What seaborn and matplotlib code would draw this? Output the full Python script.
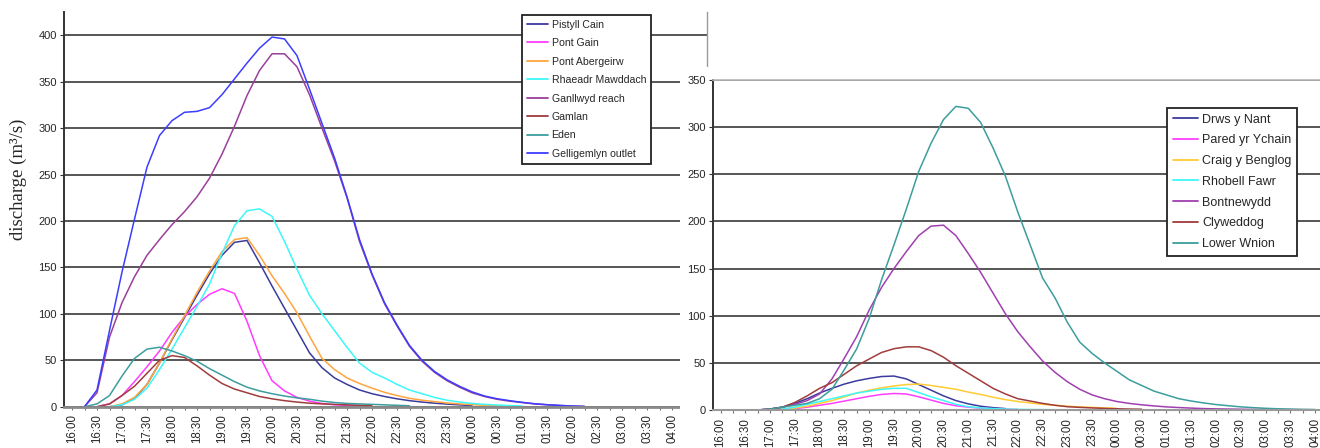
import matplotlib
matplotlib.use("Agg")
import numpy as np
import pandas as pd
import matplotlib.pyplot as plt
import seaborn as sns
from matplotlib.patches import Rectangle

# ---- data (15 minute steps) ----
tick_labels = ["16:00", "16:30", "17:00", "17:30", "18:00", "18:30", "19:00", "19:30",
               "20:00", "20:30", "21:00", "21:30", "22:00", "22:30", "23:00", "23:30",
               "00:00", "00:30", "01:00", "01:30", "02:00", "02:30", "03:00", "03:30", "04:00"]

times_left = ["16:15", "16:30", "16:45", "17:00", "17:15", "17:30", "17:45", "18:00",
              "18:15", "18:30", "18:45", "19:00", "19:15", "19:30", "19:45", "20:00",
              "20:15", "20:30", "20:45", "21:00", "21:15", "21:30", "21:45", "22:00",
              "22:15", "22:30", "22:45", "23:00", "23:15", "23:30", "23:45", "00:00",
              "00:15", "00:30", "00:45", "01:00", "01:15", "01:30", "01:45", "02:00",
              "02:15", "02:30"]

pistyll_cain = [None, None, 0, 2, 9, 24, 47, 72, 96, 120, 143, 163, 177, 179, 155, 130, 106, 82,
                58, 42, 31, 24, 18, 14, 11, 8.5, 6.5, 5, 3.8, 2.8, 2, 1.2] + [None] * 10
pont_gain = [None, 0, 3, 12, 27, 43, 60, 80, 97, 110, 121, 127, 122, 92, 55, 28, 17, 10, 6,
             3.5, 2, 1.5, 1] + [None] * 19
pont_abergeirw = [None, None, 0, 3, 10, 24, 47, 73, 98, 123, 146, 167, 180, 182, 163, 141, 122,
                  101, 76, 52, 40, 31, 25, 20, 15.5, 12, 9, 7, 5.5, 4, 3, 2.2, 1.5, 1, 0.7] + [None] * 7
rhaeadr_mawddach = [None, None, 0, 2, 8, 20, 40, 62, 85, 108, 132, 165, 195, 211, 213, 205, 178,
                    148, 120, 100, 82, 64, 47, 37, 31, 24, 18, 14, 10, 7, 5, 3.5, 2.5, 1.8, 1.2,
                    0.8] + [None] * 6
ganllwyd_reach = [0, 15, 75, 112, 140, 163, 180, 196, 210, 226, 246, 272, 302, 335, 362, 380, 380,
                  366, 336, 300, 265, 225, 178, 142, 111, 87, 65, 49, 37, 28, 21, 15, 11, 8, 6,
                  4.5, 3, 2, 1.3, 0.7, 0.3, None]
gamlan = [None, 0, 3, 12, 22, 36, 50, 55, 53, 44, 34, 25, 19, 15, 11, 8.5, 6.5, 5, 3.8, 3, 2.5,
          2, 1.5, 1] + [None] * 18
eden = [0, 3, 12, 33, 52, 62, 64, 60, 55, 49, 41, 34, 27, 21, 17, 14, 11.5, 9.5, 8, 6, 4.5,
        3.5, 3, 2.5, 2, 1.5, 1] + [None] * 15
gelligemlyn = [0, 18, 82, 145, 202, 258, 292, 308, 317, 318, 322, 336, 353, 370, 386, 398, 396,
               378, 342, 305, 268, 226, 180, 143, 112, 88, 66, 50, 38, 29, 22, 16, 11.5, 8.6, 6.5,
               4.7, 3.2, 2.2, 1.4, 0.7, 0.3, None]

left_sites = ["Pistyll Cain", "Pont Gain", "Pont Abergeirw", "Rhaeadr Mawddach",
              "Ganllwyd reach", "Gamlan", "Eden", "Gelligemlyn outlet"]
left_values = [pistyll_cain, pont_gain, pont_abergeirw, rhaeadr_mawddach,
               ganllwyd_reach, gamlan, eden, gelligemlyn]
left_colors = ["#3b3b9e", "#ff3dff", "#ffa53f", "#3df7f7", "#9a3f9a", "#a03c3c", "#3d9d9d", "#3d3dff"]

times_right = ["16:45", "17:00", "17:15", "17:30", "17:45", "18:00", "18:15", "18:30",
               "18:45", "19:00", "19:15", "19:30", "19:45", "20:00", "20:15", "20:30",
               "20:45", "21:00", "21:15", "21:30", "21:45", "22:00", "22:15", "22:30",
               "22:45", "23:00", "23:15", "23:30", "23:45", "00:00", "00:15", "00:30",
               "00:45", "01:00", "01:15", "01:30", "01:45", "02:00", "02:15", "02:30",
               "02:45", "03:00", "03:15", "03:30", "03:45", "04:00"]

drws_y_nant = [0, 1, 3, 7, 12, 18, 23, 27.5, 31, 33.5, 35.5, 36, 33, 27, 21, 15, 10, 6.5, 4,
               2.5, 1.5] + [None] * 25
pared_yr_ychain = [None, 0, 0.5, 1.5, 3, 5, 7, 9.5, 12, 14.5, 16.5, 17.5, 17, 14, 10.5, 7, 4.5,
                   3, 2, 1.3, 0.8, 0.5] + [None] * 24
craig_y_benglog = [None, 0, 1, 2, 4, 7, 10, 14, 18, 21, 23.5, 25.5, 27, 27.5, 26, 24, 22, 19,
                   16.5, 13.5, 11, 9, 7.5, 6, 5, 4, 3.3, 2.8, 2.2, 1.7] + [None] * 16
rhobell_fawr = [None, 0, 1, 3, 6, 9, 12, 15, 18, 20, 22, 23, 23, 18.5, 14, 10, 6, 3.5, 2.2, 1.5,
                1, 0.7, 0.5, 0.4, 0.3, 0.2] + [None] * 20
bontnewydd = [0, 1, 3, 6, 10, 17, 33, 55, 78, 106, 130, 150, 168, 185, 195, 196, 185, 166, 146,
              124, 102, 83, 67, 52, 40, 30, 22, 16, 12, 9, 7, 5.5, 4.3, 3.3, 2.6, 2, 1.5, 1.2, 1,
              0.8, 0.6, 0.5] + [None] * 4
clyweddog = [0, 1, 3, 8, 15, 23, 29, 38, 47, 54, 61, 65, 67, 67, 63, 56, 47, 39, 31, 23, 17, 12,
             9.5, 7, 5, 3.5, 2.8, 2.2, 1.7, 1.3, 1, 0.8] + [None] * 14
lower_wnion = [0, 1, 3, 5, 7, 12, 22, 43, 65, 97, 138, 175, 213, 253, 283, 308, 322, 320, 305,
               278, 248, 210, 175, 140, 119, 93, 72, 60, 50, 41, 32, 26, 20, 16, 12, 9.5, 7.5,
               5.8, 4.5, 3.3, 2.5, 1.8, 1.3, 1, 0.7, 0.5]

right_sites = ["Drws y Nant", "Pared yr Ychain", "Craig y Benglog", "Rhobell Fawr",
               "Bontnewydd", "Clyweddog", "Lower Wnion"]
right_values = [drws_y_nant, pared_yr_ychain, craig_y_benglog, rhobell_fawr,
                bontnewydd, clyweddog, lower_wnion]
right_colors = ["#3b3b9e", "#ff3dff", "#ffcc33", "#3df7f7", "#a03fb0", "#a03c3c", "#3d9d9d"]


def to_hours(s):
    h, m = map(int, s.split(":"))
    return h + m / 60 + (24 if h < 12 else 0)


def long_frame(times, sites, values):
    rows = []
    for site, vals in zip(sites, values):
        for t, v in zip(times, vals):
            if v is not None:
                rows.append({"hours": to_hours(t), "discharge": v, "site": site})
    return pd.DataFrame(rows)


df_left = long_frame(times_left, left_sites, left_values)
df_right = long_frame(times_right, right_sites, right_values)
tick_pos = [to_hours(s) for s in tick_labels]
minor_pos = [p + 0.25 for p in tick_pos[:-1]]

sns.set_style("white")
plt.rcParams["font.family"] = ["Liberation Sans", "DejaVu Sans"]

W, H = 1320, 448
fig = plt.figure(figsize=(W / 100, H / 100), dpi=100)

grid_kw = dict(color="#3a3a3a", linewidth=1.2)


def style_axis(ax):
    ax.set_xticks(tick_pos)
    ax.set_xticklabels(tick_labels, rotation=90, fontsize=8.3)
    ax.set_xticks(minor_pos, minor=True)
    ax.tick_params(axis="x", which="both", direction="out", length=2.5, width=0.8,
                   color="#777777", pad=3, bottom=True)
    ax.tick_params(axis="y", direction="out", length=3, width=0.8, color="#333333",
                   labelsize=8, pad=2, left=True)
    ax.set_xlabel("")
    ax.set_ylabel("")
    ax.yaxis.grid(True, **grid_kw)
    ax.xaxis.grid(False)
    ax.set_axisbelow(True)


def restyle_legend(ax, anchor, size, spacing):
    old = ax.get_legend()
    handles, labels = old.legend_handles, [t.get_text() for t in old.get_texts()]
    leg = ax.legend(handles, labels, loc="upper left", bbox_to_anchor=anchor,
                    bbox_transform=fig.transFigure, fontsize=size, frameon=True, fancybox=False,
                    framealpha=1, edgecolor="#222222", borderpad=0.45, handlelength=2.0,
                    handletextpad=0.35, labelspacing=spacing, borderaxespad=0)
    leg.get_frame().set_linewidth(1.3)
    for h in leg.legend_handles:
        h.set_linewidth(1.3)
    return leg


# ---- left panel ----
ax1 = fig.add_axes([64 / W, 1 - 406.7 / H, (707 - 64) / W, (406.7 - 12) / H])
sns.lineplot(data=df_left, x="hours", y="discharge", hue="site", hue_order=left_sites,
             palette=left_colors, estimator=None, sort=False, linewidth=1.1, ax=ax1)
ax1.set_xlim(16 - 8 / 50, 16 + (707 - 72) / 50)
ax1.set_ylim(0, 425)
ax1.set_yticks(range(0, 401, 50))
style_axis(ax1)
ax1.spines["top"].set_visible(False)
ax1.spines["left"].set_color("#333333")
ax1.spines["left"].set_linewidth(1.4)
ax1.spines["bottom"].set_color("#8a8a8a")
ax1.spines["bottom"].set_linewidth(2)
ax1.spines["right"].set_color("#9a9a9a")
ax1.spines["right"].set_linewidth(1)
restyle_legend(ax1, (522 / W, 1 - 15 / H), 7.6, 0.8)

fig.text(18 / W, 1 - 179 / H, "discharge (m³/s)", rotation=90, ha="center", va="center",
         fontsize=13.5, family=["Liberation Serif", "DejaVu Serif"])

# white sheet the second chart sits on
fig.add_artist(Rectangle((680 / W, 0), 1, (H - 67) / H, transform=fig.transFigure,
                         facecolor="white", edgecolor="none", zorder=1))

# ---- right panel ----
ax2 = fig.add_axes([712.7 / W, 1 - 410 / H, (1400 - 712.7) / W, 330 / H])
ax2.set_zorder(2)
sns.lineplot(data=df_right, x="hours", y="discharge", hue="site", hue_order=right_sites,
             palette=right_colors, estimator=None, sort=False, linewidth=1.1, ax=ax2)
ax2.set_xlim(16 - (720.5 - 712.7) / 49.55, 16 + (1400 - 720.5) / 49.55)
ax2.set_ylim(0, 350)
ax2.set_yticks(range(0, 351, 50))
style_axis(ax2)
ax2.spines["top"].set_color("#b8b8b8")
ax2.spines["top"].set_linewidth(1.2)
ax2.spines["left"].set_color("#333333")
ax2.spines["left"].set_linewidth(1.4)
ax2.spines["bottom"].set_color("#9a9a9a")
ax2.spines["bottom"].set_linewidth(1.5)
ax2.spines["right"].set_visible(False)
restyle_legend(ax2, (1167 / W, 1 - 108 / H), 9, 0.7)

fig.savefig("out.png", dpi=100)
